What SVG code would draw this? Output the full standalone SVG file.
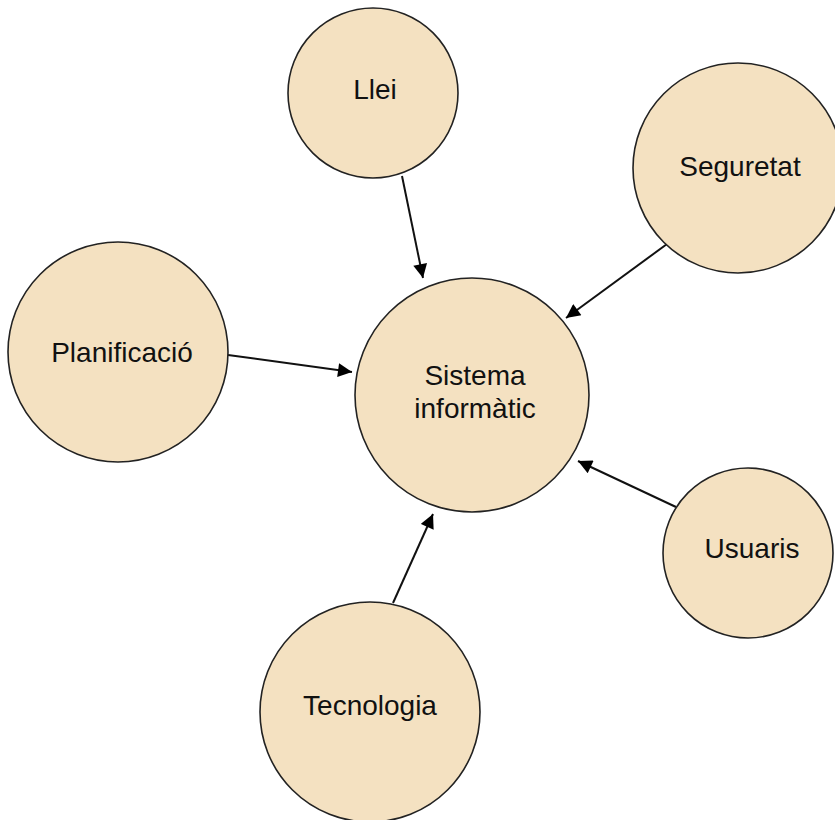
<svg xmlns="http://www.w3.org/2000/svg" width="835" height="820" viewBox="0 0 835 820">
<style>
.node circle{fill:#F4E1C1;stroke:#222;stroke-width:1.6}
.node text{font-family:"Liberation Sans",Arial,sans-serif;font-size:28px;fill:#111;text-anchor:middle}
.edges line{stroke:#111;stroke-width:2;marker-end:url(#arr)}
</style>
<defs>
<marker id="arr" viewBox="0 0 10 10" refX="10" refY="5" markerWidth="8" markerHeight="7" markerUnits="strokeWidth" orient="auto">
<path d="M0,0 L10,5 L0,10 z" fill="#000"/>
</marker>
</defs>
<rect width="835" height="820" fill="#fff"/>
<g class="edges">
<line x1="402" y1="176" x2="423" y2="278"/>
<line x1="667" y1="244" x2="566" y2="318"/>
<line x1="228" y1="355" x2="352" y2="372"/>
<line x1="676" y1="507" x2="578" y2="461"/>
<line x1="393" y1="603" x2="433" y2="514"/>
</g>
<g id="llei" class="node"><circle cx="373" cy="93" r="85"/><text x="375" y="99">Llei</text></g>
<g id="seguretat" class="node"><circle cx="738" cy="168" r="105"/><text x="740" y="176">Seguretat</text></g>
<g id="planificacio" class="node"><circle cx="118" cy="352" r="110"/><text x="122" y="362">Planificació</text></g>
<g id="sistema" class="node"><circle cx="472" cy="395" r="117"/><text x="475" y="385">Sistema</text><text x="475" y="418">informàtic</text></g>
<g id="usuaris" class="node"><circle cx="748" cy="553" r="85"/><text x="752" y="558">Usuaris</text></g>
<g id="tecnologia" class="node"><circle cx="370" cy="712" r="110"/><text x="370" y="715">Tecnologia</text></g>
</svg>
